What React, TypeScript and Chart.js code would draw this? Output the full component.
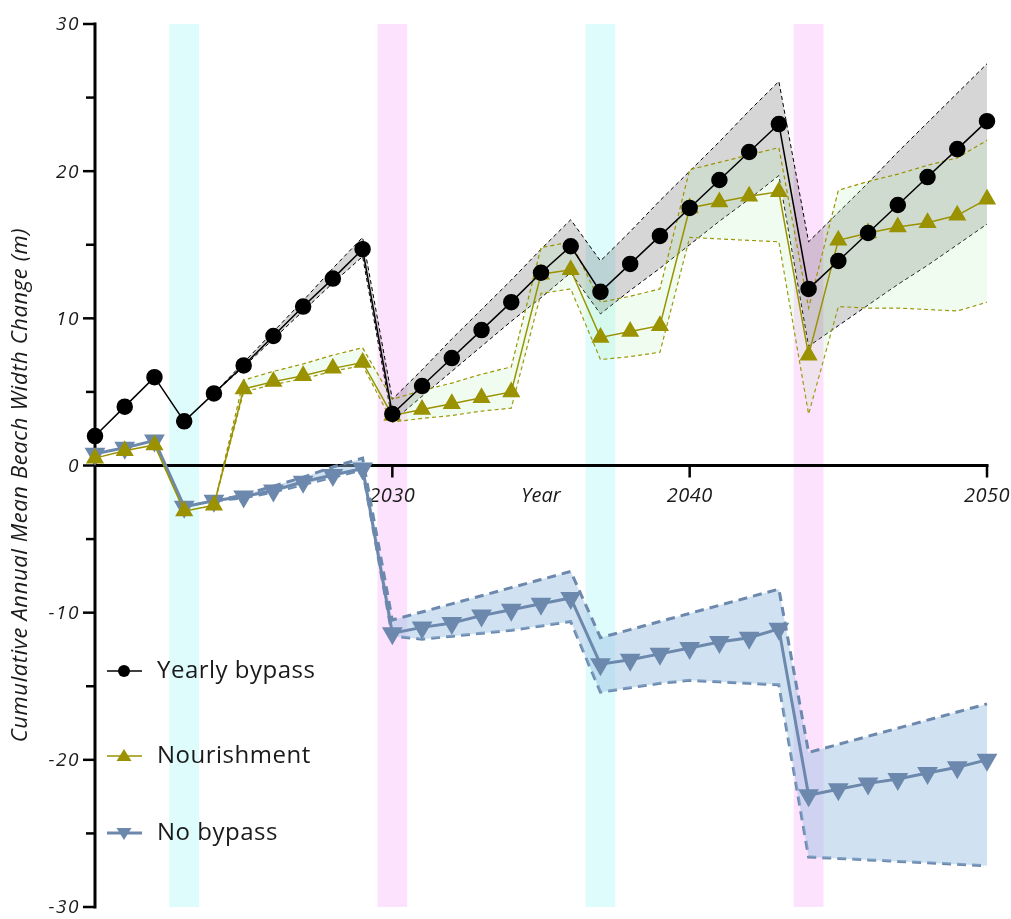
import React, { useEffect, useRef } from "react";
import { Chart, registerables } from "chart.js";

Chart.register(...registerables);

const years = [2020, 2021, 2022, 2023, 2024, 2025, 2026, 2027, 2028, 2029, 2030, 2031, 2032, 2033, 2034, 2035, 2036, 2037, 2038, 2039, 2040, 2041, 2042, 2043, 2044, 2045, 2046, 2047, 2048, 2049, 2050];

const yearlyBypass = [2.0, 4.0, 6.0, 3.0, 4.9, 6.8, 8.8, 10.8, 12.7, 14.7, 3.5, 5.4, 7.3, 9.2, 11.1, 13.1, 14.9, 11.8, 13.7, 15.6, 17.5, 19.4, 21.3, 23.2, 12.0, 13.9, 15.8, 17.7, 19.6, 21.5, 23.4];
const yearlyUpper = [null, null, null, null, 4.9, 7.0, 9.1, 11.2, 13.4, 15.5, 4.5, 6.5, 8.6, 10.6, 12.6, 14.7, 16.7, 13.9, 15.9, 18.0, 20.0, 22.0, 24.1, 26.1, 15.2, 17.2, 19.2, 21.3, 23.3, 25.3, 27.3];
const yearlyLower = [null, null, null, null, 4.9, 6.7, 8.6, 10.5, 12.4, 14.2, 3.0, 4.7, 6.4, 8.1, 9.8, 11.4, 13.1, 10.3, 11.9, 13.4, 15.0, 16.6, 18.1, 19.7, 8.1, 9.5, 10.9, 12.3, 13.6, 15.0, 16.4];

const nourishment = [0.5, 1.0, 1.4, -3.1, -2.7, 5.2, 5.7, 6.1, 6.6, 7.0, 3.4, 3.8, 4.2, 4.6, 5.0, 13.0, 13.3, 8.7, 9.1, 9.5, 17.5, 17.9, 18.3, 18.6, 7.5, 15.3, 15.8, 16.2, 16.5, 17.0, 18.1];
const nourUpper = [null, null, null, null, -2.7, 5.8, 6.4, 6.9, 7.5, 8.0, 4.5, 5.1, 5.6, 6.2, 6.7, 14.8, 15.2, 11.1, 11.5, 12.0, 20.1, 20.6, 21.1, 21.6, 10.7, 18.7, 19.3, 19.8, 20.4, 20.9, 22.1];
const nourLower = [null, null, null, null, -2.7, 5.0, 5.5, 5.9, 6.4, 6.8, 2.95, 3.2, 3.4, 3.7, 3.9, 11.7, 12.0, 7.2, 7.4, 7.7, 15.5, 15.4, 15.3, 15.2, 3.5, 10.8, 10.7, 10.7, 10.6, 10.5, 11.1];

const noBypass = [0.8, 1.2, 1.7, -2.8, -2.4, -2.1, -1.7, -1.1, -0.65, -0.2, -11.4, -11.0, -10.7, -10.2, -9.8, -9.4, -9.0, -13.5, -13.2, -12.8, -12.4, -12.0, -11.7, -11.1, -22.4, -22.0, -21.6, -21.3, -20.9, -20.5, -20.0];
const noBypassUpper = [null, null, null, null, -2.4, -2.0, -1.4, -0.8, -0.1, 0.5, -10.5, -9.95, -9.4, -8.85, -8.3, -7.75, -7.2, -11.7, -11.15, -10.6, -10.05, -9.5, -8.95, -8.4, -19.5, -18.95, -18.4, -17.85, -17.3, -16.75, -16.2];
const noBypassLower = [null, null, null, null, -2.4, -2.2, -1.8, -1.3, -0.8, -0.3, -11.6, -11.8, -11.6, -11.4, -11.2, -10.9, -10.6, -15.4, -15.1, -14.8, -14.6, -14.7, -14.8, -14.9, -26.6, -26.7, -26.8, -26.9, -27.0, -27.1, -27.2];

// shaded event bands
const bandStarts = [2022.5, 2029.5, 2036.5, 2043.5];
const bandEnds = [2023.5, 2030.5, 2037.5, 2044.5];
const bandKinds = ["cyan", "magenta", "cyan", "magenta"];

const yTicks = [-30, -20, -10, 0, 10, 20, 30];
const yMinorTicks = [-25, -15, -5, 5, 15, 25];
const xTicks = [2030, 2040, 2050];
const xTickLabels = ["2030", "2040", "2050"];

const seriesNames = ["Yearly bypass", "Nourishment", "No bypass"];

const BLACK = "#000000";
const OLIVE = "#9a9200";
const BLUE = "#6c88ad";

const toPts = (vals: (number | null)[]) =>
  years.map((x, i) => ({ x, y: vals[i] })).filter((p) => p.y !== null);

const FONT = "'Open Sans', 'Lato', sans-serif";

const axesPlugin = {
  id: "customAxes",
  beforeDatasetsDraw(chart: any) {
    const { ctx, chartArea, scales } = chart;
    const xs = scales.x;
    const ys = scales.y;
    ctx.save();
    bandStarts.forEach((s, i) => {
      const x0 = xs.getPixelForValue(s);
      const x1 = xs.getPixelForValue(bandEnds[i]);
      ctx.fillStyle = bandKinds[i] === "cyan" ? "#dffcfd" : "#fde2fd";
      ctx.fillRect(x0, chartArea.top, x1 - x0, chartArea.bottom - chartArea.top);
    });
    const x0 = xs.getPixelForValue(2020);
    const xEnd = xs.getPixelForValue(2050);
    const y0 = ys.getPixelForValue(0);
    ctx.strokeStyle = "#000";
    ctx.lineWidth = 3;
    ctx.beginPath();
    ctx.moveTo(x0, ys.getPixelForValue(30) - 1.5);
    ctx.lineTo(x0, ys.getPixelForValue(-30) + 1.5);
    ctx.stroke();
    ctx.beginPath();
    ctx.moveTo(x0, y0);
    ctx.lineTo(xEnd + 1.5, y0);
    ctx.stroke();
    ctx.lineWidth = 2.5;
    yTicks.forEach((v) => {
      const y = ys.getPixelForValue(v);
      ctx.beginPath();
      ctx.moveTo(x0 - 12, y);
      ctx.lineTo(x0, y);
      ctx.stroke();
    });
    yMinorTicks.forEach((v) => {
      const y = ys.getPixelForValue(v);
      ctx.beginPath();
      ctx.moveTo(x0 - 9, y);
      ctx.lineTo(x0, y);
      ctx.stroke();
    });
    xTicks.forEach((v) => {
      const x = xs.getPixelForValue(v);
      ctx.beginPath();
      ctx.moveTo(x, y0);
      ctx.lineTo(x, y0 + 12);
      ctx.stroke();
    });
    ctx.fillStyle = "#1a1a1a";
    ctx.font = `italic 19px ${FONT}`;
    ctx.letterSpacing = "1.5px";
    ctx.textAlign = "right";
    ctx.textBaseline = "middle";
    yTicks.forEach((v) => {
      ctx.fillText(String(v), x0 - 15, ys.getPixelForValue(v) + 1);
    });
    ctx.font = `italic 20px ${FONT}`;
    ctx.letterSpacing = "0.5px";
    ctx.textAlign = "center";
    xTicks.forEach((v, i) => {
      ctx.fillText(xTickLabels[i], xs.getPixelForValue(v), y0 + 31);
    });
    ctx.letterSpacing = "0px";
    ctx.fillText("Year", xs.getPixelForValue(2035), y0 + 31);
    ctx.save();
    ctx.translate(21, 485);
    ctx.rotate(-Math.PI / 2);
    ctx.font = `italic 22px ${FONT}`;
    ctx.letterSpacing = "0.6px";
    ctx.textAlign = "center";
    ctx.textBaseline = "middle";
    ctx.fillText("Cumulative Annual Mean Beach Width Change (m)", 0, 0);
    ctx.restore();
    ctx.restore();
  },
  afterDraw(chart: any) {
    const { ctx } = chart;
    ctx.save();
    const ys = [671, 756, 833];
    const colors = [BLACK, OLIVE, BLUE];
    ys.forEach((y, i) => {
      ctx.strokeStyle = colors[i];
      ctx.fillStyle = colors[i];
      ctx.lineWidth = i === 2 ? 3 : 1.5;
      ctx.beginPath();
      ctx.moveTo(107, y);
      ctx.lineTo(142, y);
      ctx.stroke();
      const cx = 124;
      if (i === 0) {
        ctx.beginPath();
        ctx.arc(cx, y, 6, 0, Math.PI * 2);
        ctx.fill();
      } else if (i === 1) {
        ctx.beginPath();
        ctx.moveTo(cx, y - 7);
        ctx.lineTo(cx + 7.5, y + 5);
        ctx.lineTo(cx - 7.5, y + 5);
        ctx.closePath();
        ctx.fill();
      } else {
        ctx.beginPath();
        ctx.moveTo(cx, y + 7);
        ctx.lineTo(cx + 7.5, y - 5);
        ctx.lineTo(cx - 7.5, y - 5);
        ctx.closePath();
        ctx.fill();
      }
      ctx.fillStyle = "#1a1a1a";
      ctx.font = `24px ${FONT}`;
      ctx.letterSpacing = "0.5px";
      ctx.textAlign = "left";
      ctx.textBaseline = "middle";
      ctx.fillText(seriesNames[i], 157, y);
    });
    ctx.restore();
  },
};

export default function App() {
  const ref = useRef<HTMLCanvasElement | null>(null);
  useEffect(() => {
    if (!ref.current) return;
    const boundBase = { pointRadius: 0, clip: false as any, tension: 0 };
    const chart = new Chart(ref.current, {
      type: "line",
      data: {
        datasets: [
          {
            label: seriesNames[0],
            data: toPts(yearlyBypass),
            borderColor: BLACK,
            backgroundColor: BLACK,
            borderWidth: 1.5,
            pointRadius: 7.5,
            pointStyle: "circle",
            fill: false,
            order: 0,
            clip: false as any,
          },
          {
            label: seriesNames[1],
            data: toPts(nourishment),
            borderColor: OLIVE,
            backgroundColor: OLIVE,
            borderWidth: 1.5,
            pointRadius: 9,
            pointStyle: "triangle",
            fill: false,
            order: 1,
            clip: false as any,
          },
          {
            label: seriesNames[2],
            data: toPts(noBypass),
            borderColor: BLUE,
            backgroundColor: BLUE,
            borderWidth: 3,
            pointRadius: 9,
            pointStyle: "triangle",
            pointRotation: 180,
            fill: false,
            order: 2,
            clip: false as any,
          },
          {
            label: "yu",
            data: toPts(yearlyUpper),
            borderColor: BLACK,
            borderWidth: 1,
            borderDash: [4, 3],
            backgroundColor: "rgba(0,0,0,0.16)",
            fill: "+1",
            order: 5,
            ...boundBase,
          },
          {
            label: "yl",
            data: toPts(yearlyLower),
            borderColor: BLACK,
            borderWidth: 1,
            borderDash: [4, 3],
            fill: false,
            order: 5,
            ...boundBase,
          },
          {
            label: "nu",
            data: toPts(nourUpper),
            borderColor: OLIVE,
            borderWidth: 1.2,
            borderDash: [4, 3],
            backgroundColor: "rgba(180,240,170,0.18)",
            fill: "+1",
            order: 4,
            ...boundBase,
          },
          {
            label: "nl",
            data: toPts(nourLower),
            borderColor: OLIVE,
            borderWidth: 1.2,
            borderDash: [4, 3],
            fill: false,
            order: 4,
            ...boundBase,
          },
          {
            label: "bu",
            data: toPts(noBypassUpper),
            borderColor: BLUE,
            borderWidth: 3,
            borderDash: [9, 6],
            backgroundColor: "rgba(150,190,225,0.45)",
            fill: "+1",
            order: 6,
            ...boundBase,
          },
          {
            label: "bl",
            data: toPts(noBypassLower),
            borderColor: BLUE,
            borderWidth: 3,
            borderDash: [9, 6],
            fill: false,
            order: 6,
            ...boundBase,
          },
        ],
      },
      options: {
        animation: false,
        responsive: false,
        maintainAspectRatio: false,
        devicePixelRatio: 1,
        layout: { padding: { left: 95, right: 24, top: 24, bottom: 8 } },
        scales: {
          x: { type: "linear", min: 2020, max: 2050, display: false },
          y: { type: "linear", min: -30, max: 30, display: false },
        },
        plugins: {
          legend: { display: false },
          tooltip: { enabled: false },
        },
        elements: { line: { tension: 0 } },
      },
      plugins: [axesPlugin],
    });
    return () => chart.destroy();
  }, []);
  return (
    <div style={{ position: "fixed", left: 0, top: 0, width: 1011, height: 919, background: "#fff" }}>
      <canvas ref={ref} width={1011} height={919} style={{ display: "block", width: 1011, height: 919 }} />
    </div>
  );
}
